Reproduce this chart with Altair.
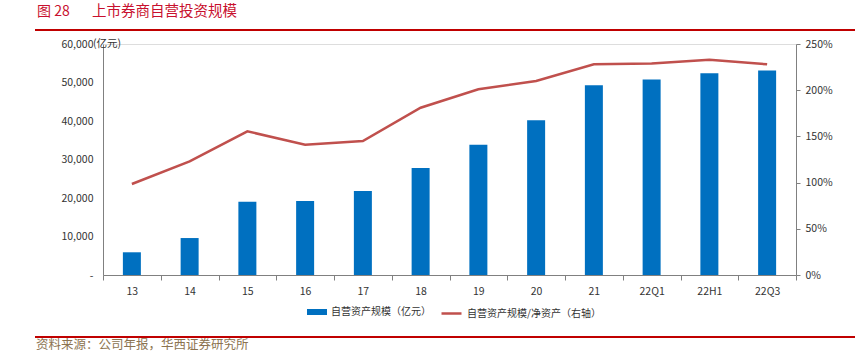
import altair as alt
import pandas as pd

categories = ["13", "14", "15", "16", "17", "18", "19", "20", "21", "22Q1", "22H1", "22Q3"]
scale_values = [5900, 9600, 19000, 19200, 21800, 27800, 33800, 40200, 49300, 50800, 52400, 53100]
ratio_values = [0.985, 1.23, 1.555, 1.41, 1.45, 1.81, 2.01, 2.10, 2.28, 2.29, 2.33, 2.28]
left_ticks = [0, 10000, 20000, 30000, 40000, 50000, 60000]
right_ticks = [0, 0.5, 1.0, 1.5, 2.0, 2.5]
bar_name = "自营资产规模（亿元）"
line_name = "自营资产规模/净资产（右轴）"
title_num = "图 28"
title_text = "上市券商自营投资规模"
unit_text = "(亿元)"
source_text = "资料来源：公司年报，华西证券研究所"

FONT = "Noto Sans CJK SC"
BLUE = "#0070C0"
RED = "#C0504D"
AXIS_GRAY = "#808080"

df = pd.DataFrame({
    "cat": categories,
    "scale": scale_values,
    "ratio": ratio_values,
    "bar_s": [bar_name] * len(categories),
    "line_s": [line_name] * len(categories),
})

x_enc = alt.X(
    "cat:N", sort=categories, title=None,
    scale=alt.Scale(paddingInner=0, paddingOuter=0),
    axis=alt.Axis(labelAngle=0, tickBand="extent", domainColor=AXIS_GRAY, tickColor=AXIS_GRAY,
                  tickSize=5, labelPadding=6, labelFontSize=10.5, labelColor="#333333", labelFont=FONT),
)

bars = alt.Chart(df).mark_bar(size=18).encode(
    x=x_enc,
    y=alt.Y("scale:Q", title=None, scale=alt.Scale(domain=[0, 60000]),
            axis=alt.Axis(values=left_ticks, grid=False, ticks=False, domainColor=AXIS_GRAY,
                          labelPadding=10, labelFontSize=10.5, labelColor="#333333", labelFont=FONT,
                          labelExpr="datum.value == 0 ? '-' : format(datum.value, ',')")),
    color=alt.Color("bar_s:N", scale=alt.Scale(range=[BLUE]),
                    legend=alt.Legend(orient="none", legendX=204, legendY=258, title=None,
                                      symbolType="M-1,-0.3H1V0.3H-1Z", symbolSize=400,
                                      labelFontSize=10, labelFont=FONT, labelColor="#333333",
                                      symbolStrokeWidth=0)),
)

line = alt.Chart(df).mark_line(strokeWidth=2.5).encode(
    x=x_enc,
    y=alt.Y("ratio:Q", title=None, scale=alt.Scale(domain=[0, 2.5]),
            axis=alt.Axis(orient="right", values=right_ticks, format=".0%", grid=False, ticks=True,
                          tickSize=4, tickColor=AXIS_GRAY, domainColor=AXIS_GRAY, labelPadding=5,
                          labelFontSize=10.5, labelColor="#333333", labelFont=FONT)),
    stroke=alt.Stroke("line_s:N", scale=alt.Scale(range=[RED]),
                      legend=alt.Legend(orient="none", legendX=337, legendY=258, title=None,
                                        symbolType="stroke", symbolSize=400, symbolStrokeWidth=2.5,
                                        labelFontSize=10, labelFont=FONT, labelColor="#333333")),
)

title_a = alt.Chart(pd.DataFrame({"t": [title_num]})).mark_text(
    align="left", baseline="middle", fontSize=14, color="#C8102E", font=FONT
).encode(x=alt.value(-66), y=alt.value(-32), text="t:N")

title_b = alt.Chart(pd.DataFrame({"t": [title_text]})).mark_text(
    align="left", baseline="middle", fontSize=14.5, color="#C8102E", font=FONT
).encode(x=alt.value(-11), y=alt.value(-32), text="t:N")

unit = alt.Chart(pd.DataFrame({"t": [unit_text]})).mark_text(
    align="left", baseline="middle", fontSize=10.5, color="#333333", font=FONT
).encode(x=alt.value(-10), y=alt.value(0), text="t:N")

top_rule = alt.Chart(pd.DataFrame({"a": [0]})).mark_rule(color="#C00000", strokeWidth=2).encode(
    x=alt.value(-68), x2=alt.value(752), y=alt.value(-14))
bottom_rule = alt.Chart(pd.DataFrame({"a": [0]})).mark_rule(color="#C00000", strokeWidth=2).encode(
    x=alt.value(-68), x2=alt.value(752), y=alt.value(293))

source = alt.Chart(pd.DataFrame({"t": [source_text]})).mark_text(
    align="left", baseline="middle", fontSize=12.5, color="#8C7350", font=FONT
).encode(x=alt.value(-67), y=alt.value(301), text="t:N")

chart = alt.layer(bars, line, title_a, title_b, unit, top_rule, bottom_rule, source).resolve_scale(
    y="independent", color="independent"
).properties(
    width=693, height=231,
    autosize=alt.AutoSizeParams(type="none"),
    padding={"left": 103, "top": 44, "right": 59, "bottom": 78},
).configure_view(stroke=None).configure(background="white")

chart.save("out.html", embed_options={"renderer": "svg", "actions": False})
